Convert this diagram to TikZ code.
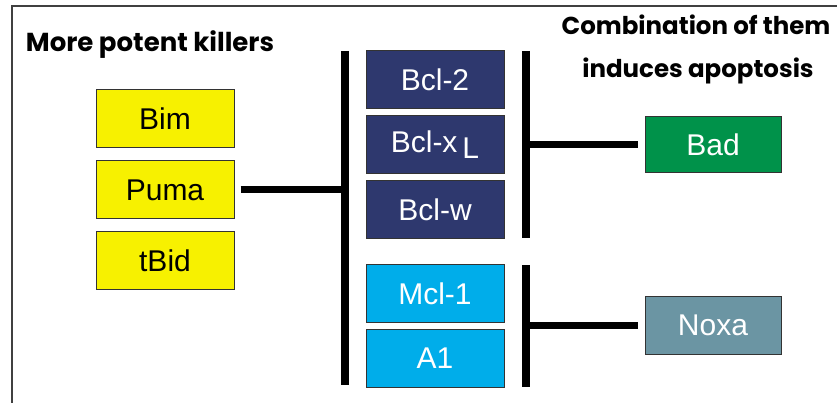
\documentclass[tikz,border=0pt]{standalone}
\usepackage{fontspec}
\setmainfont{Liberation Sans}
\newfontfamily\titlefont{Poppins}
\definecolor{ybox}{HTML}{F7F100}
\definecolor{dbox}{HTML}{2E386E}
\definecolor{lbox}{HTML}{00ADEA}
\definecolor{gbox}{HTML}{00924A}
\definecolor{nbox}{HTML}{6B95A3}
\definecolor{frame}{HTML}{404040}
\tikzset{
  pbox/.style={draw=black!80, line width=1pt, minimum width=138pt, minimum height=58pt, inner sep=0pt, font=\fontsize{30}{32}\selectfont},
  yel/.style={pbox, fill=ybox, text=black},
  dkb/.style={pbox, fill=dbox, text=white},
  ltb/.style={pbox, fill=lbox, text=white},
  grn/.style={pbox, fill=gbox, text=white, minimum width=136pt, minimum height=56pt},
  nox/.style={pbox, fill=nbox, text=white, minimum width=136pt, minimum height=58pt},
  bar/.style={line width=8pt, black},
  link/.style={line width=7pt, black},
  ttl/.style={font=\titlefont\bfseries\fontsize{26}{28}\selectfont, inner sep=0pt, anchor=base},
  ttr/.style={font=\titlefont\bfseries\fontsize{24.5}{26}\selectfont, inner sep=0pt, anchor=base}
}
\begin{document}
\begin{tikzpicture}[x=1pt,y=-1pt]
\useasboundingbox (0,0) rectangle (837,403);
\fill[white] (0,0) rectangle (837,403);
\begin{scope}
\clip (0,0) rectangle (837,403);
\draw[frame, line width=1.2pt] (12,410) -- (12,6) -- (845,6);
\end{scope}
\node[ttl] (t1) at (150,52) {More potent killers};
\node[ttr] (t2) at (696,35) {Combination of them};
\node[ttr] (t3) at (698,78) {induces apoptosis};
\node[yel] (bim) at (165,119) {Bim};
\node[yel] (puma) at (165,190) {Puma};
\node[yel] (tbid) at (165,260.5) {tBid};
\node[dkb] (bcl2) at (435,80) {Bcl-2};
\node[dkb] (bclx) at (435,144.5) {Bcl-x\,\raisebox{-6pt}{L}};
\node[dkb] (bclw) at (435,209.5) {Bcl-w};
\node[ltb] (mcl) at (435,293.5) {Mcl-1};
\node[ltb] (a1) at (435,358.5) {A1};
\node[grn] (bad) at (713,145) {Bad};
\node[nox] (noxa) at (713,325) {Noxa};
\coordinate (b1t) at (345,51);
\coordinate (b1b) at (345,385);
\coordinate (b2t) at (526,51);
\coordinate (b2b) at (526,238);
\coordinate (b3t) at (526,265);
\coordinate (b3b) at (526,387);
\draw[bar] (b1t) -- (b1b);
\draw[bar] (b2t) -- (b2b);
\draw[bar] (b3t) -- (b3b);
\draw[link, shorten <=6pt] (puma.east) -- (puma.east -| b1t);
\draw[link, shorten <=7pt] (bad.west) -- (bad.west -| b2t);
\draw[link, shorten <=7pt] (noxa.west) -- (noxa.west -| b3t);
\end{tikzpicture}
\end{document}
